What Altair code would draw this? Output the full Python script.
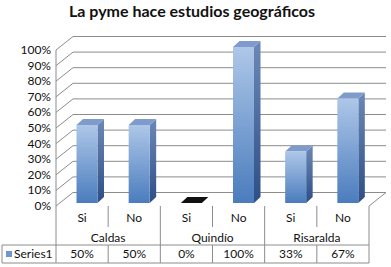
import altair as alt
import pandas as pd

# ---------------- data ----------------
title_text = "La pyme hace estudios geográficos"
series_name = "Series1"
regions = ["Caldas", "Quindío", "Risaralda"]
answers = ["Si", "No", "Si", "No", "Si", "No"]
values = [0.50, 0.50, 0.00, 1.00, 0.33, 0.67]
y_ticks = [0.0, 0.1, 0.2, 0.3, 0.4, 0.5, 0.6, 0.7, 0.8, 0.9, 1.0]

# ---------------- geometry (pixels -> data units) ----------------
W, H = 391, 267
X0, X1 = 56, 369          # front plane left / right
Y0, Y1 = 206, 50          # front plane 0% / 100%
N = len(answers)
UX = (X1 - X0) / N
UY = (Y0 - Y1)
WALL_DX, WALL_DY = 17 / UX, 13.5 / UY
BAR_OFF, BAR_W = 20.5 / UX, 21 / UX
BF_DY = 3 / UY
D_DX, D_DY = 6.5 / UX, 6 / UY
LEG_X = (2 - X0) / UX

def py(px):
    return (Y0 - px) / UY

xs = alt.Scale(domain=[0, N], range=[X0, X1], nice=False, zero=False)
ys = alt.Scale(domain=[0, 1], range=[Y0, Y1], nice=False, zero=False)
X = lambda f: alt.X(f, type="quantitative", scale=xs, axis=None)
Y = lambda f: alt.Y(f, type="quantitative", scale=ys, axis=None, stack=None)

GRID = "#8c8c8c"
FONT = "Lato"

# ---------------- walls / gridlines ----------------
wrows = []
for k, t in enumerate(y_ticks):
    g = f"t{k}"
    wrows += [dict(g=g, o=0, x=0, y=t),
              dict(g=g, o=1, x=WALL_DX, y=t + WALL_DY),
              dict(g=g, o=2, x=N + WALL_DX, y=t + WALL_DY)]
wrows += [dict(g="fr", o=0, x=N, y=0), dict(g="fr", o=1, x=N + WALL_DX, y=WALL_DY)]
wrows += [dict(g="ax", o=0, x=0, y=0), dict(g="ax", o=1, x=0, y=1)]
walls = alt.Chart(pd.DataFrame(wrows)).mark_line(color=GRID, strokeWidth=1).encode(
    x=X("x"), y=Y("y"), detail="g:N", order="o:Q")

# ---------------- bars ----------------
front_rows, side_rows, top_rows = [], [], []
for i, v in enumerate(values):
    left = i + BAR_OFF
    right = left + BAR_W
    front_rows.append(dict(id=i, xl=left, xr=right, yb=BF_DY, yt=v + BF_DY, v=v))
    side_rows += [dict(id=i, x=right, ylo=BF_DY, yhi=v + BF_DY, v=v),
                  dict(id=i, x=right + D_DX, ylo=BF_DY + D_DY, yhi=v + BF_DY + D_DY, v=v)]
    top_rows += [dict(id=i, y=v + BF_DY, xa=left, xb=right, v=v),
                 dict(id=i, y=v + BF_DY + D_DY, xa=left + D_DX, xb=right + D_DX, v=v)]

front_grad = alt.Gradient(gradient="linear", x1=0, y1=0, x2=0, y2=1,
                          stops=[alt.GradientStop(offset=0, color="#AEC7E8"),
                                 alt.GradientStop(offset=1, color="#4A7CBD")])
side_grad = alt.Gradient(gradient="linear", x1=0, y1=0, x2=0, y2=1,
                         stops=[alt.GradientStop(offset=0, color="#6C88B8"),
                                alt.GradientStop(offset=1, color="#2D4F86")])

front = alt.Chart(pd.DataFrame(front_rows)).mark_rect(fill=front_grad, stroke=None).encode(
    x=X("xl"), x2="xr", y=Y("yb"), y2="yt")
side = alt.Chart(pd.DataFrame(side_rows)).mark_area(orient="vertical", fill=side_grad).encode(
    x=X("x"), y=Y("ylo"), y2="yhi", detail="id:N")
top = alt.Chart(pd.DataFrame(top_rows)).mark_area(orient="horizontal").encode(
    y=Y("y"), x=alt.X("xa", type="quantitative", scale=xs, axis=None, stack=None), x2="xb",
    detail="id:N",
    fill=alt.condition("datum.v == 0", alt.value("#111111"), alt.value("#7E9BCB")))

# ---------------- y labels ----------------
ylab = alt.Chart(pd.DataFrame({"t": y_ticks})).mark_text(
    align="right", baseline="middle", font=FONT, fontSize=12, color="#111").encode(
    x=alt.value(51), y=Y("t"), text=alt.Text("t:Q", format=".0%"))

# ---------------- data table ----------------
R_TOP, R_MID, R_SEP, R_BOT = 206, 227, 245, 263
rules = []
rules.append(dict(x=LEG_X, x2=LEG_X, y=py(R_SEP), y2=py(R_BOT)))
for c in [0, 2, 4, 6]:
    rules.append(dict(x=c, x2=c, y=py(R_TOP), y2=py(R_BOT)))
for c in [1, 3, 5]:
    rules.append(dict(x=c, x2=c, y=py(R_TOP), y2=py(R_MID)))
    rules.append(dict(x=c, x2=c, y=py(R_SEP), y2=py(R_BOT)))
rules.append(dict(x=LEG_X, x2=N, y=py(R_SEP), y2=py(R_SEP)))
rules.append(dict(x=LEG_X, x2=N, y=py(R_BOT), y2=py(R_BOT)))
table_lines = alt.Chart(pd.DataFrame(rules)).mark_rule(color=GRID, strokeWidth=1).encode(
    x=X("x"), x2="x2", y=Y("y"), y2="y2")

cells = pd.DataFrame({"pos": [i + 0.5 for i in range(N)], "ans": answers, "val": values})
ans_text = alt.Chart(cells).mark_text(font=FONT, fontSize=12, color="#111", baseline="middle").encode(
    x=X("pos"), y=alt.value(218), text="ans:N")
val_text = alt.Chart(cells).mark_text(font=FONT, fontSize=12, color="#111", baseline="middle").encode(
    x=X("pos"), y=alt.value(254), text=alt.Text("val:Q", format=".0%"))
reg = pd.DataFrame({"pos": [1 + 2 * k for k in range(len(regions))], "reg": regions})
reg_text = alt.Chart(reg).mark_text(font=FONT, fontSize=12, color="#111", baseline="middle").encode(
    x=X("pos"), y=alt.value(238), text="reg:N")

leg = pd.DataFrame({"s": [series_name]})
swatch = alt.Chart(leg).mark_square(size=36, color="#6E97D0", opacity=1).encode(
    x=alt.value(9), y=alt.value(254))
leg_text = alt.Chart(leg).mark_text(font=FONT, fontSize=12, color="#111", align="left",
                                    baseline="middle").encode(
    x=alt.value(14), y=alt.value(254), text="s:N")

title = alt.Chart(pd.DataFrame({"t": [title_text]})).mark_text(
    font=FONT, fontSize=16, fontWeight="bold", color="#111", baseline="alphabetic").encode(
    x=alt.value(192), y=alt.value(17), text="t:N")

chart = alt.layer(walls, side, top, front, ylab, table_lines, ans_text, val_text, reg_text,
                  swatch, leg_text, title).properties(
    width=W, height=H, autosize=alt.AutoSizeParams(type="none"), padding=0,
    background="white").configure_view(stroke=None)

chart.save("out.html", embed_options={"renderer": "svg", "actions": False})
